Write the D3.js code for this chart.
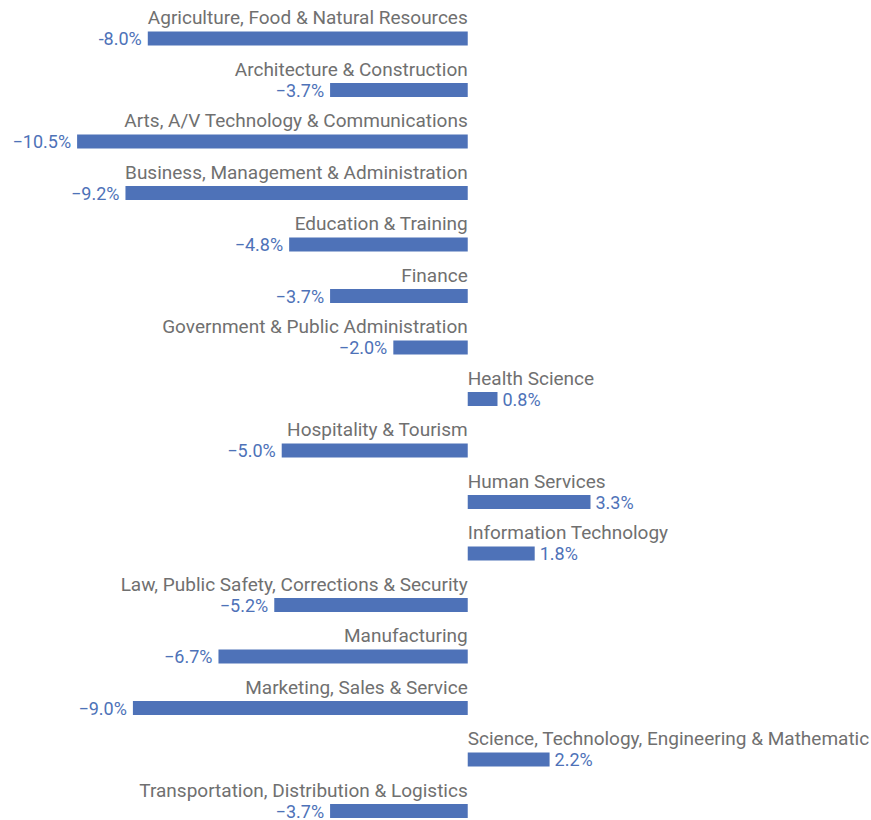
<!DOCTYPE html>
<html><head><meta charset="utf-8">
<script src="https://cdn.jsdelivr.net/npm/d3@7"></script>
<style>html,body{margin:0;padding:0;background:#fff;}</style>
</head><body><svg id="chart" width="871" height="820"></svg>
<script>
const categories = [
  "Agriculture, Food & Natural Resources",
  "Architecture & Construction",
  "Arts, A/V Technology & Communications",
  "Business, Management & Administration",
  "Education & Training",
  "Finance",
  "Government & Public Administration",
  "Health Science",
  "Hospitality & Tourism",
  "Human Services",
  "Information Technology",
  "Law, Public Safety, Corrections & Security",
  "Manufacturing",
  "Marketing, Sales & Service",
  "Science, Technology, Engineering & Mathematic",
  "Transportation, Distribution & Logistics"
];
const values = [-8.6, -3.7, -10.5, -9.2, -4.8, -3.7, -2.0, 0.8, -5.0, 3.3, 1.8, -5.2, -6.7, -9.0, 2.2, -3.7];
const valueLabels = ["-8.0%", "\u22123.7%", "\u221210.5%", "\u22129.2%", "\u22124.8%", "\u22123.7%", "\u22122.0%", "0.8%", "\u22125.0%", "3.3%", "1.8%", "\u22125.2%", "\u22126.7%", "\u22129.0%", "2.2%", "\u22123.7%"];

const svg = d3.select("#chart");
const x = d3.scaleLinear().domain([-10.5, 3.3]).range([77.1, 590.5]);
const y = d3.scaleBand().domain(categories).range([0, 824]).paddingInner(0).paddingOuter(0);
const data = categories.map((c, i) => ({c, v: values[i], l: valueLabels[i]}));
const x0 = x(0);
const barH = 14;

const g = svg.append("g").attr("font-family", "Roboto, 'Noto Sans', sans-serif");
const row = g.selectAll("g.row").data(data).enter().append("g")
  .attr("transform", d => `translate(0,${y(d.c)})`);

row.append("rect")
  .attr("x", d => Math.min(x(d.v), x0))
  .attr("y", 31.5)
  .attr("width", d => Math.abs(x(d.v) - x0))
  .attr("height", barH)
  .attr("fill", "#4e72b8");

row.append("text")
  .attr("x", x0)
  .attr("y", 24)
  .attr("text-anchor", d => d.v < 0 ? "end" : "start")
  .attr("font-size", 19)
  .attr("fill", "#707070")
  .text(d => d.c);

row.append("text")
  .attr("x", d => d.v < 0 ? x(d.v) - 6 : x(d.v) + 5)
  .attr("y", 45)
  .attr("text-anchor", d => d.v < 0 ? "end" : "start")
  .attr("font-size", 18)
  .attr("fill", "#4e72b8")
  .text(d => d.l);
</script></body></html>
